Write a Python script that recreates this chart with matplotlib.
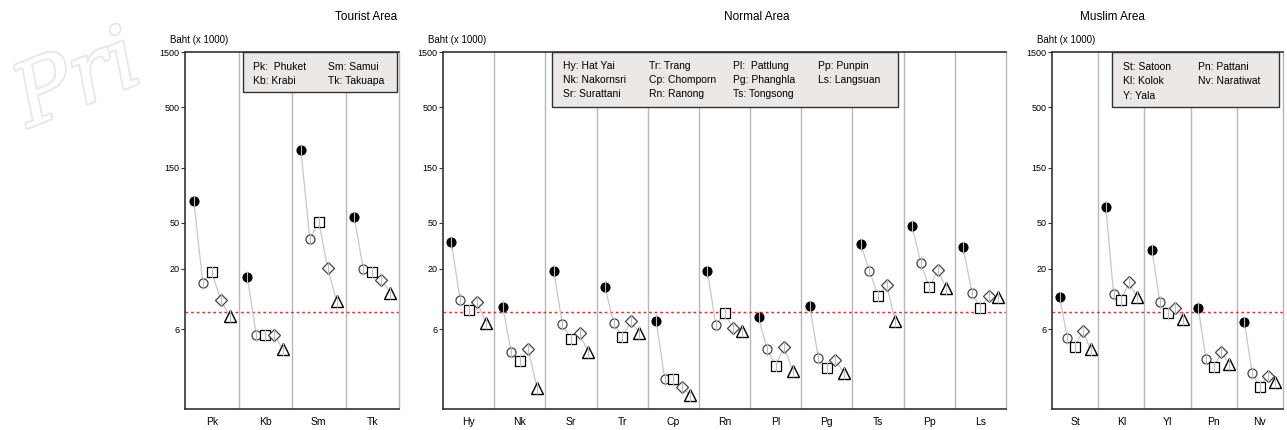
import matplotlib
matplotlib.use("Agg")
import matplotlib.pyplot as plt
import matplotlib.patheffects as pe

plt.rcParams['font.family'] = ['Liberation Sans', 'DejaVu Sans']

W, H = 1287, 430

# each row: overall, circle, square, diamond, triangle (Baht x 1000)
tourist_codes = ['Pk', 'Kb', 'Sm', 'Tk']
tourist_vals = [
    [76.9, 15.1, 18.8, 10.7, 7.8],
    [17.0, 5.3, 5.3, 5.3, 4.0],
    [214, 36, 51, 20.1, 10.5],
    [55.6, 19.8, 18.7, 16.1, 12.4],
]
tourist_legend = [['Pk:  Phuket', 'Kb: Krabi'], ['Sm: Samui', 'Tk: Takuapa']]

normal_codes = ['Hy', 'Nk', 'Sr', 'Tr', 'Cp', 'Rn', 'Pl', 'Pg', 'Ts', 'Pp', 'Ls']
normal_vals = [
    [33.7, 10.8, 8.7, 10.3, 6.8],
    [9.4, 3.8, 3.2, 4.0, 1.86],
    [18.9, 6.6, 4.9, 5.5, 3.8],
    [14.0, 6.8, 5.1, 7.0, 5.6],
    [7.1, 2.2, 2.2, 1.9, 1.6],
    [18.9, 6.5, 8.2, 6.1, 5.8],
    [7.6, 4.0, 2.9, 4.2, 2.6],
    [9.5, 3.4, 2.75, 3.25, 2.5],
    [32.4, 19.0, 11.6, 14.4, 7.1],
    [47, 22.6, 13.8, 19.3, 13.5],
    [30.5, 12.4, 9.2, 11.6, 11.4],
]
normal_legend = [['Hy: Hat Yai', 'Nk: Nakornsri', 'Sr: Surattani'],
                 ['Tr: Trang', 'Cp: Chomporn', 'Rn: Ranong'],
                 ['Pl:  Pattlung', 'Pg: Phanghla', 'Ts: Tongsong'],
                 ['Pp: Punpin', 'Ls: Langsuan']]

muslim_codes = ['St', 'Kl', 'Yl', 'Pn', 'Nv']
muslim_vals = [
    [11.4, 5.0, 4.2, 5.8, 4.0],
    [68.7, 12.1, 10.7, 15.2, 11.4],
    [29.2, 10.2, 8.2, 9.2, 7.4],
    [9.2, 3.3, 2.8, 3.8, 3.0],
    [6.9, 2.5, 1.9, 2.35, 2.1],
]
muslim_legend = [['St: Satoon', 'Kl: Kolok', 'Y: Yala'], ['Pn: Pattani', 'Nv: Naratiwat']]

poverty_line = 8.4
err_factor = 1.13
yticks = [6, 20, 50, 150, 500, 1500]

offsets = [-0.335, -0.167, 0.0, 0.167, 0.335]
marker_styles = [
    dict(marker='o', mfc='black', mec='black', ms=6.5, mew=0.8),
    dict(marker='o', mfc='white', mec='#444444', ms=6.5, mew=0.9),
    dict(marker='s', mfc='white', mec='black', ms=6.5, mew=0.9),
    dict(marker='D', mfc='white', mec='#444444', ms=6, mew=0.9),
    dict(marker='^', mfc='white', mec='black', ms=8.5, mew=1.0),
]


def px(x, y):
    return x / W, 1 - y / H


def draw_panel(x0, x1, codes, vals, title, title_x, legend, legend_box, col_x, row_y):
    fx, fy = px(x0, 409)
    ax = fig.add_axes([fx, fy, (x1 - x0) / W, (409 - 52) / H])
    n = len(codes)
    ax.set_xlim(0, n)
    ax.set_yscale('log')
    ax.set_ylim(1.22, 1500)
    ax.set_yticks(yticks)
    ax.set_yticklabels([str(t) for t in yticks], fontsize=6.5)
    ax.yaxis.set_minor_locator(matplotlib.ticker.NullLocator())
    ax.tick_params(axis='y', length=3, width=0.8, pad=1, color='#333333')
    ax.set_xticks([i + 0.5 for i in range(n)])
    ax.set_xticklabels(codes, fontsize=7.5)
    ax.tick_params(axis='x', length=0, pad=6)
    for s in ['left', 'bottom', 'top']:
        ax.spines[s].set_color('#333333')
        ax.spines[s].set_linewidth(1.2)
    ax.spines['right'].set_color('#b8b8b8')
    ax.spines['right'].set_linewidth(1.0)
    for i in range(1, n):
        ax.axvline(i, color='#b8b8b8', lw=1.0, zorder=1)
    ax.axhline(poverty_line, color='#e03030', lw=1.0, ls=(0, (2, 2)), zorder=1.5)

    for i, row in enumerate(vals):
        xs = [i + 0.5 + o for o in offsets]
        ax.plot(xs, row, color='#c8c8c8', lw=0.9, zorder=2)
        for x, y, st in zip(xs, row, marker_styles):
            ax.plot([x], [y], ls='none', zorder=3, **st)
        ax.vlines(xs, [y / err_factor for y in row], [y * err_factor for y in row],
                  color='#bdbdbd', lw=0.8, zorder=4)

    fig.text(*px(title_x, 17), title, ha='center', va='center', fontsize=8.5)
    fig.text(*px(x0 - 15, 40), 'Baht (x 1000)', ha='left', va='center', fontsize=7)

    bx0, by0, bx1, by1 = legend_box
    lx, ly = px(bx0, by1)
    box = plt.Rectangle((lx, ly), (bx1 - bx0) / W, (by1 - by0) / H, transform=fig.transFigure,
                        facecolor='#ebe8e6', edgecolor='#333333', lw=1.0, zorder=5)
    fig.patches.append(box)
    for cx, col in zip(col_x, legend):
        for ry, label in zip(row_y, col):
            fig.text(*px(cx, ry), label, ha='left', va='center', fontsize=7.5, zorder=6)
    return ax


fig = plt.figure(figsize=(W / 100, H / 100), dpi=100)

# faint background stamp
fig.text(*px(78, 82), 'Pri', fontsize=62, family='DejaVu Serif', style='italic',
         color='white', rotation=22, ha='center', va='center',
         path_effects=[pe.withStroke(linewidth=2.5, foreground='#e6e6e6')])

draw_panel(185, 399, tourist_codes, tourist_vals, 'Tourist Area', 366,
           tourist_legend, (243, 52, 397, 92), [253, 328], [67, 81])
draw_panel(443, 1006, normal_codes, normal_vals, 'Normal Area', 757,
           normal_legend, (552, 52, 898, 107), [563, 649, 733, 818], [66, 80, 94])
draw_panel(1052, 1283, muslim_codes, muslim_vals, 'Muslim Area', 1112,
           muslim_legend, (1112, 52, 1279, 107), [1123, 1198], [67, 81, 96])

fig.savefig('out.png', dpi=100)
